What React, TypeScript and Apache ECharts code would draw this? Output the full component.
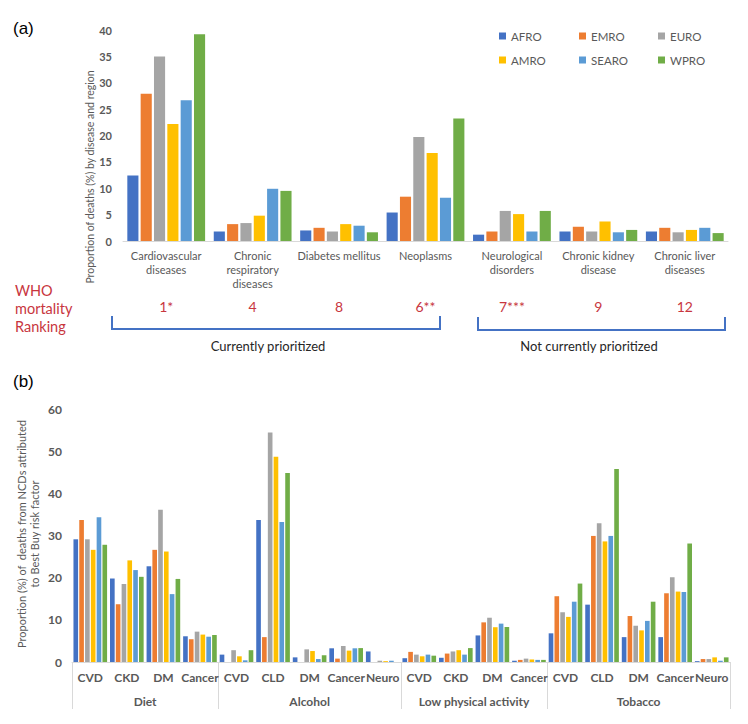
import React, { useEffect, useRef } from "react";
import * as echarts from "echarts";

// WHO regions and their bar colours
const regions = ["AFRO", "EMRO", "EURO", "AMRO", "SEARO", "WPRO"];
const regionColors = ["#4472C4", "#ED7D31", "#A5A5A5", "#FFC000", "#5B9BD5", "#70AD47"];

// Panel (a): share of deaths (%) by disease and region
const diseases = [
  "Cardiovascular\ndiseases",
  "Chronic\nrespiratory\ndiseases",
  "Diabetes mellitus",
  "Neoplasms",
  "Neurological\ndisorders",
  "Chronic kidney\ndisease",
  "Chronic liver\ndiseases",
];
const mortalityRanks = ["1*", "4", "8", "6**", "7***", "9", "12"];

const deathShareAfro = [12.4, 1.8, 2.0, 5.4, 1.2, 1.8, 1.8];
const deathShareEmro = [27.9, 3.2, 2.5, 8.4, 1.8, 2.7, 2.5];
const deathShareEuro = [35.0, 3.4, 1.8, 19.7, 5.7, 1.8, 1.65];
const deathShareAmro = [22.2, 4.8, 3.2, 16.7, 5.1, 3.7, 2.1];
const deathShareSearo = [26.7, 9.9, 2.9, 8.2, 1.8, 1.65, 2.5];
const deathShareWpro = [39.2, 9.5, 1.65, 23.2, 5.7, 2.1, 1.5];

// Panel (b): share of NCD deaths attributed to each Best Buy risk factor
const riskFactors = ["Diet", "Alcohol", "Low physical activity", "Tobacco"];
const dietOutcomes = ["CVD", "CKD", "DM", "Cancer"];
const alcoholOutcomes = ["CVD", "CLD", "DM", "Cancer", "Neuro"];
const activityOutcomes = ["CVD", "CKD", "DM", "Cancer"];
const tobaccoOutcomes = ["CVD", "CLD", "DM", "Cancer", "Neuro"];

const attributedAfro = [29.1, 19.8, 22.7, 6.1, 1.75, 33.7, 1.1, 3.25, 2.5, 0.9, 1.0, 6.3, 0.3, 6.8, 13.6, 5.9, 5.9, 0.2];
const attributedEmro = [33.7, 13.7, 26.6, 5.4, 0, 5.9, 0, 0.8, 0, 2.4, 2.0, 9.4, 0.5, 15.6, 29.9, 10.9, 16.3, 0.7];
const attributedEuro = [29.1, 18.5, 36.1, 7.2, 2.8, 54.4, 3.0, 3.8, 0.3, 1.75, 2.5, 10.5, 0.8, 11.8, 32.9, 8.6, 20.1, 0.7];
const attributedAmro = [26.6, 24.1, 26.2, 6.5, 1.35, 48.7, 2.6, 2.7, 0.2, 1.35, 2.8, 8.25, 0.6, 10.7, 28.6, 7.5, 16.7, 1.1];
const attributedSearo = [34.3, 21.8, 16.1, 6.0, 0.4, 33.2, 0.7, 3.25, 0.3, 1.75, 1.75, 9.1, 0.5, 14.3, 29.9, 9.75, 16.6, 0.3];
const attributedWpro = [27.8, 20.2, 19.7, 6.4, 2.8, 44.8, 1.6, 3.3, 0, 1.5, 3.3, 8.3, 0.5, 18.6, 45.8, 14.3, 28.1, 1.1];

const deathShareByRegion = [deathShareAfro, deathShareEmro, deathShareEuro, deathShareAmro, deathShareSearo, deathShareWpro];
const attributedByRegion = [attributedAfro, attributedEmro, attributedEuro, attributedAmro, attributedSearo, attributedWpro];

const FONT = "Lato";
const GREY = "#595959";
const RED = "#C8363E";
const BLUE = "#4472C4";

function buildOption() {
  const outcomeGroups = [dietOutcomes, alcoholOutcomes, activityOutcomes, tobaccoOutcomes];
  // unique keys for the outcome axis, shown only by their outcome name
  const outcomeKeys: string[] = [];
  const outcomeNames: string[] = [];
  outcomeGroups.forEach((g, gi) =>
    g.forEach((o) => {
      outcomeKeys.push(riskFactors[gi] + "|" + o);
      outcomeNames.push(o);
    })
  );

  // half-step axis used for the risk-factor group labels and separators
  const boundaryIdx: number[] = [0];
  let acc = 0;
  outcomeGroups.forEach((g) => {
    acc += g.length;
    boundaryIdx.push(acc * 2);
  });
  const centerIdx = outcomeGroups.map((g, i) => boundaryIdx[i] + g.length);
  const groupSlots = Array.from({ length: acc * 2 + 1 }, (_, i) => String(i));

  const legendSlots = [
    [499, 30],
    [579, 30],
    [658, 30],
    [499, 54],
    [579, 54],
    [658, 54],
  ];

  const noLine = { show: false };

  return {
    animation: false,
    backgroundColor: "#ffffff",
    textStyle: { fontFamily: FONT },
    grid: [
      { left: 123, top: 30, width: 605, height: 211, outerBoundsMode: "none" },
      { left: 72, top: 409, width: 658, height: 253, outerBoundsMode: "none" },
    ],
    legend: regions.map((r, i) => ({
      data: [r],
      left: legendSlots[i][0],
      top: legendSlots[i][1],
      padding: 0,
      itemWidth: 7,
      itemHeight: 7,
      icon: "rect",
      selectedMode: false,
      textStyle: { fontFamily: FONT, fontSize: 11.5, color: GREY },
    })),
    xAxis: [
      {
        type: "category",
        gridIndex: 0,
        position: "bottom",
        data: diseases,
        axisLine: { lineStyle: { color: "#D9D9D9", width: 1 } },
        axisTick: noLine,
        axisLabel: {
          interval: 0,
          margin: 7,
          fontFamily: FONT,
          fontSize: 11,
          lineHeight: 14,
          color: GREY,
        },
      },
      {
        type: "category",
        gridIndex: 0,
        position: "bottom",
        data: mortalityRanks,
        axisLine: noLine,
        axisTick: noLine,
        axisLabel: {
          interval: 0,
          margin: 58,
          fontFamily: FONT,
          fontSize: 14,
          color: RED,
        },
      },
      {
        type: "category",
        gridIndex: 1,
        position: "bottom",
        data: outcomeKeys,
        axisLine: { lineStyle: { color: "#D9D9D9", width: 1 } },
        axisTick: noLine,
        axisLabel: {
          interval: 0,
          margin: 9,
          fontFamily: FONT,
          fontSize: 12,
          fontWeight: "bold",
          color: GREY,
          formatter: (_v: string, idx: number) => outcomeNames[idx],
        },
      },
      {
        type: "category",
        gridIndex: 1,
        position: "bottom",
        boundaryGap: false,
        data: groupSlots,
        axisLine: noLine,
        axisTick: {
          show: true,
          length: 47,
          interval: (idx: number) => boundaryIdx.includes(idx),
          lineStyle: { color: "#D9D9D9", width: 1 },
        },
        axisLabel: {
          margin: 33,
          interval: (idx: number) => centerIdx.includes(idx),
          fontFamily: FONT,
          fontSize: 12,
          fontWeight: "bold",
          color: GREY,
          formatter: (_v: string, idx: number) => {
            const k = centerIdx.indexOf(idx);
            return k >= 0 ? riskFactors[k] : "";
          },
        },
      },
    ],
    yAxis: [
      {
        type: "value",
        gridIndex: 0,
        min: 0,
        max: 40,
        interval: 5,
        axisLine: noLine,
        axisTick: noLine,
        splitLine: noLine,
        axisLabel: { margin: 11, fontFamily: FONT, fontSize: 11, fontWeight: "bold", color: GREY },
      },
      {
        type: "value",
        gridIndex: 1,
        min: 0,
        max: 60,
        interval: 10,
        axisLine: noLine,
        axisTick: noLine,
        splitLine: noLine,
        axisLabel: { margin: 10, fontFamily: FONT, fontSize: 12, fontWeight: "bold", color: GREY },
      },
    ],
    series: [
      ...regions.map((r, i) => ({
        name: r,
        type: "bar",
        xAxisIndex: 0,
        yAxisIndex: 0,
        data: deathShareByRegion[i],
        itemStyle: { color: regionColors[i] },
        barGap: "20%",
        barCategoryGap: "10%",
        silent: true,
      })),
      ...regions.map((r, i) => ({
        name: r,
        type: "bar",
        xAxisIndex: 2,
        yAxisIndex: 1,
        data: attributedByRegion[i],
        itemStyle: { color: regionColors[i] },
        barGap: "25%",
        barCategoryGap: "8%",
        silent: true,
      })),
    ],
    graphic: [
      {
        type: "text",
        x: 13,
        y: 28,
        style: { text: "(a)", fontFamily: "Liberation Sans", fontSize: 17, fill: "#000", verticalAlign: "middle", textVerticalAlign: "middle" },
      },
      {
        type: "text",
        x: 13,
        y: 381,
        style: { text: "(b)", fontFamily: "Liberation Sans", fontSize: 17, fill: "#000", verticalAlign: "middle", textVerticalAlign: "middle" },
      },
      {
        type: "text",
        x: 90,
        y: 177,
        rotation: Math.PI / 2,
        style: {
          text: "Proportion of deaths (%) by disease and region",
          fontFamily: FONT,
          fontSize: 10.5,
          fill: GREY,
          align: "center",
          textAlign: "center",
          verticalAlign: "middle",
          textVerticalAlign: "middle",
        },
      },
      {
        type: "text",
        x: 28,
        y: 534,
        rotation: Math.PI / 2,
        style: {
          text: "Proportion (%) of  deaths from NCDs attributed\nto Best Buy risk factor",
          fontFamily: FONT,
          fontSize: 11,
          lineHeight: 13.5,
          fill: GREY,
          align: "center",
          textAlign: "center",
          verticalAlign: "middle",
          textVerticalAlign: "middle",
        },
      },
      {
        type: "text",
        x: 15,
        y: 281,
        style: {
          text: "WHO\nmortality\nRanking",
          fontFamily: FONT,
          fontSize: 14.5,
          lineHeight: 18.3,
          fill: RED,
          verticalAlign: "top",
          textVerticalAlign: "top",
        },
      },
      {
        type: "polyline",
        shape: { points: [[112, 316], [112, 329], [440, 329], [440, 316]] },
        style: { stroke: BLUE, lineWidth: 2, fill: null },
      },
      {
        type: "polyline",
        shape: { points: [[478, 317], [478, 330], [725, 330], [725, 317]] },
        style: { stroke: BLUE, lineWidth: 2, fill: null },
      },
      {
        type: "text",
        x: 268,
        y: 346,
        style: {
          text: "Currently prioritized",
          fontFamily: FONT,
          fontSize: 13,
          fill: "#262626",
          align: "center",
          textAlign: "center",
          verticalAlign: "middle",
          textVerticalAlign: "middle",
        },
      },
      {
        type: "text",
        x: 589,
        y: 346,
        style: {
          text: "Not currently prioritized",
          fontFamily: FONT,
          fontSize: 13,
          fill: "#262626",
          align: "center",
          textAlign: "center",
          verticalAlign: "middle",
          textVerticalAlign: "middle",
        },
      },
    ],
  };
}

export default function App() {
  const ref = useRef<HTMLDivElement>(null);

  useEffect(() => {
    if (!ref.current) return;
    const chart = echarts.init(ref.current, null, { renderer: "svg" });
    chart.setOption(buildOption() as any);
    return () => chart.dispose();
  }, []);

  return (
    <div
      ref={ref}
      style={{ position: "absolute", left: 0, top: 0, width: 748, height: 724, background: "#fff" }}
    />
  );
}
